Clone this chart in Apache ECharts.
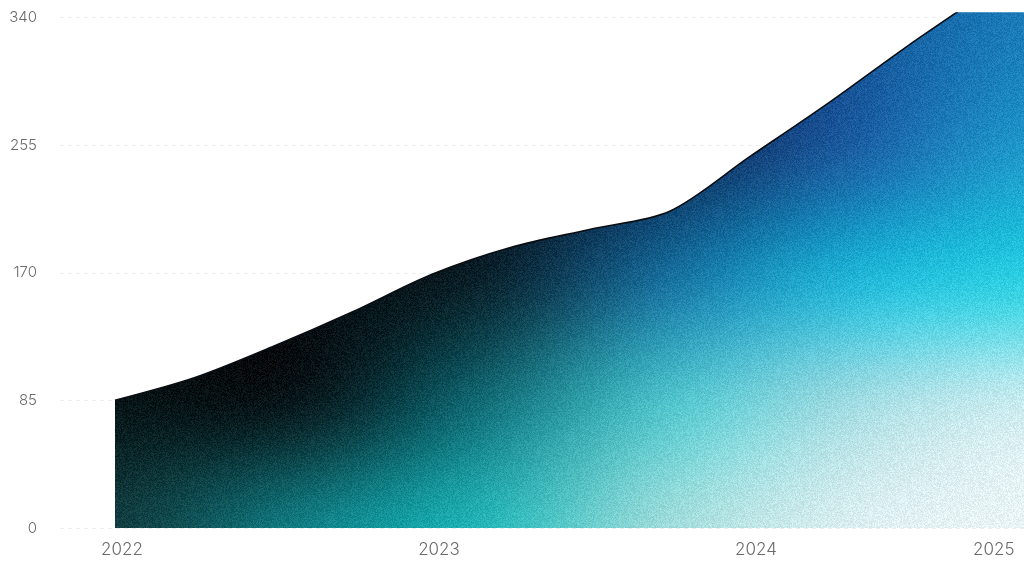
<!DOCTYPE html>
<html><head><meta charset="utf-8">
<script src="https://cdn.jsdelivr.net/npm/echarts@6/dist/echarts.min.js"></script>
<style>html,body{margin:0;padding:0;background:#fff}#c{width:1024px;height:575px}</style>
</head><body><div id="c"></div>
<script>
// ---- data ----
const quarterIndex = [0,1,2,3,4,5,6,7,8,9,10,11,12];
const quarterNames = ['2022 Q1','2022 Q2','2022 Q3','2022 Q4','2023 Q1','2023 Q2','2023 Q3','2023 Q4','2024 Q1','2024 Q2','2024 Q3','2024 Q4','2025 Q1'];
const values = [85,100,121,144,169,187,199,211,247,283,321,357,393];
const yearTickIndex = [0,4,8,11];
const yearTickLabels = ['2022','2023','2024','2025'];
const yTicks = [0,85,170,255,340];

// ---- texture (style only) ----
function hex(h){return [parseInt(h.slice(1,3),16),parseInt(h.slice(3,5),16),parseInt(h.slice(5,7),16)];}
function buildTexture(){
  const W=1024,H=575;
  const cv=document.createElement('canvas'); cv.width=W; cv.height=H;
  const ctx=cv.getContext('2d');
  const gx=[115,300,480,660,840,1024];
  const gy=[20,150,280,400,528];
  const g=[
    ['#020608','#03080b','#050e16','#0b2242','#14508f','#1a7bb8'],
    ['#03080a','#040a0d','#06111a','#0d284e','#1a5c9e','#1e98ca'],
    ['#040a0c','#050d10','#0a222c','#186e9a','#22b2d4','#2ecfe2'],
    ['#061416','#08191d','#126a74','#4cbfc8','#9adae1','#c6ebef'],
    ['#123f42','#117e84','#25b6b8','#9bdbda','#d9eef0','#ebf5f7']
  ].map(r=>r.map(hex));
  const cr=(p0,p1,p2,p3,t)=>0.5*(2*p1+(-p0+p2)*t+(2*p0-5*p1+4*p2-p3)*t*t+(-p0+3*p1-3*p2+p3)*t*t*t);
  function seg(arr,v){
    if(v<=arr[0])return [0,0];
    if(v>=arr[arr.length-1])return [arr.length-2,1];
    for(let i=0;i<arr.length-1;i++){ if(v<=arr[i+1]) return [i,(v-arr[i])/(arr[i+1]-arr[i])]; }
  }
  const nR=gy.length,nC=gx.length;
  const cl=(i,n)=>Math.max(0,Math.min(n-1,i));
  const rowCols=[];
  for(let r=0;r<nR;r++){
    const arr=new Float32Array(W*3);
    for(let x=0;x<W;x++){
      const [i,t]=seg(gx,x);
      for(let c=0;c<3;c++){
        arr[x*3+c]=cr(g[r][cl(i-1,nC)][c],g[r][i][c],g[r][cl(i+1,nC)][c],g[r][cl(i+2,nC)][c],t);
      }
    }
    rowCols.push(arr);
  }
  const img=ctx.createImageData(W,H);
  const d=img.data;
  let s=12345;
  const rnd=()=>{s=(s*1103515245+12345)&0x7fffffff;return s/0x7fffffff;};
  for(let y=0;y<H;y++){
    const [j,t]=seg(gy,y);
    const a=rowCols[cl(j-1,nR)],b=rowCols[j],c2=rowCols[cl(j+1,nR)],e=rowCols[cl(j+2,nR)];
    for(let x=0;x<W;x++){
      const n=(rnd()-0.5)*26;
      const o=(y*W+x)*4;
      for(let c=0;c<3;c++){
        const k=x*3+c;
        let v=cr(a[k],b[k],c2[k],e[k],t)+n;
        d[o+c]=v<0?0:v>255?255:v;
      }
      d[o+3]=255;
    }
  }
  ctx.putImageData(img,0,0);
  return cv;
}
const tex=buildTexture();

const chart=echarts.init(document.getElementById('c'));
chart.setOption({
  animation:false,
  backgroundColor:'#ffffff',
  grid:{left:60,right:0,top:13,bottom:47,containLabel:false},
  xAxis:{
    type:'value', min:-0.694, max:11.47,
    axisLine:{show:false}, axisTick:{show:false}, splitLine:{show:false},
    axisLabel:{
      customValues:yearTickIndex,
      formatter:(v)=>{const i=yearTickIndex.indexOf(Math.round(v));return i>=0?yearTickLabels[i]:'';},
      color:'#6b6b6b', fontFamily:'Inter', fontSize:17, fontWeight:300, margin:13, padding:[0,0,0,14]
    }
  },
  yAxis:{
    type:'value', min:0, max:343, interval:85,
    axisLine:{show:false}, axisTick:{show:false},
    axisLabel:{color:'#6b6b6b', fontFamily:'Inter', fontSize:15, fontWeight:300, margin:23, showMaxLabel:false,
      formatter:(v)=>yTicks.indexOf(v)>=0?String(v):''},
    splitLine:{show:true, showMaxLine:false, lineStyle:{color:'#eceef3', type:[4,4], width:1}}
  },
  series:[{
    type:'line',
    name:'value',
    data:quarterIndex.map((q,i)=>[q,values[i]]),
    smooth:0.3,
    symbol:'none',
    clip:true,
    lineStyle:{color:'#0a0d12', width:1.6},
    areaStyle:{color:{image:tex, repeat:'no-repeat'}, opacity:1}
  }]
});
</script>
</body></html>
